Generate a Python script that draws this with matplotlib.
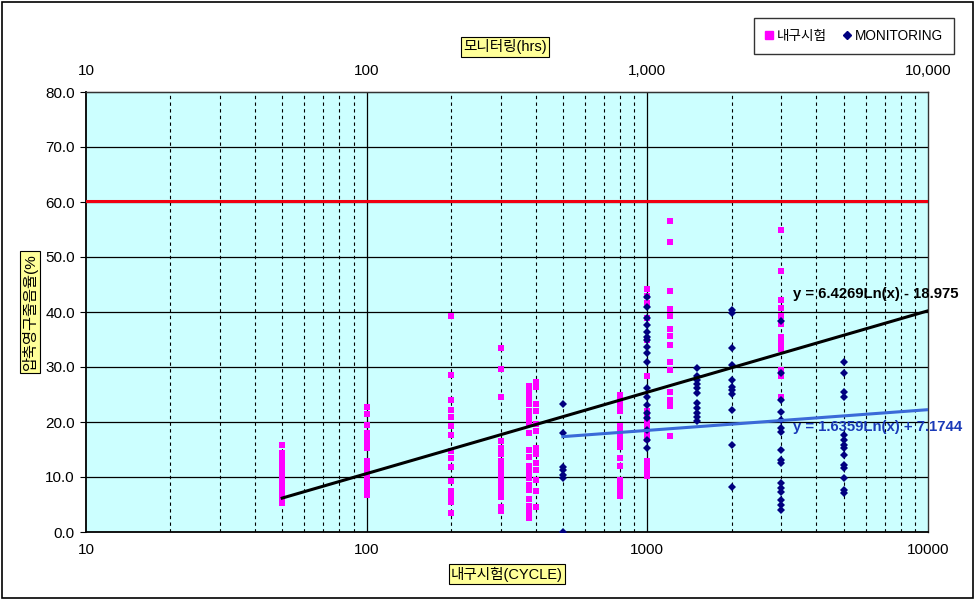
import numpy as np
import matplotlib
matplotlib.use("Agg")
import matplotlib.pyplot as plt
from matplotlib.ticker import FixedLocator, FixedFormatter, NullFormatter
from matplotlib.lines import Line2D

plt.rcParams['font.family'] = ['Liberation Sans', 'Noto Sans CJK KR', 'DejaVu Sans']

# ---- data ----
dur_cycles = [50, 100, 200, 300, 380, 400, 800, 1000, 1200, 3000]
dur_values = [
    [15.8, 14.3, 13.3, 12.3, 11.3, 10.3, 9.3, 8.3, 7.3, 6.3, 5.3],
    [22.7, 21.4, 19.5, 18.0, 16.9, 15.8, 15.2, 13.0, 11.8, 10.8, 9.8, 8.8, 7.8, 6.8],
    [39.2, 28.5, 24.0, 22.2, 21.0, 19.2, 17.6, 14.8, 13.4, 11.8, 9.3, 7.5, 6.4, 5.5, 3.5],
    [33.5, 29.7, 24.5, 16.5, 15.3, 14.1, 13.0, 12.0, 11.0, 10.0, 9.0, 8.0, 7.0, 6.4, 4.5, 3.8],
    [26.6, 25.4, 24.3, 23.2, 22.0, 21.0, 19.8, 18.0, 14.9, 13.6, 12.0, 10.9, 9.8, 8.6, 7.6, 6.0, 4.8, 3.6, 2.6],
    [27.3, 26.3, 23.2, 22.0, 19.6, 18.4, 15.3, 14.2, 12.5, 11.3, 9.5, 7.5, 4.5],
    [25.0, 24.0, 23.0, 22.0, 19.3, 18.3, 17.3, 16.3, 15.5, 13.4, 12.0, 9.5, 8.5, 7.5, 6.6],
    [44.2, 43.0, 41.6, 38.9, 35.0, 28.4, 22.0, 21.0, 20.0, 19.0, 18.0, 17.0, 13.0, 12.0, 11.0, 10.1],
    [56.6, 52.8, 43.9, 40.5, 39.2, 37.0, 35.6, 34.0, 31.0, 29.5, 25.5, 24.0, 23.0, 17.5],
    [55.0, 47.5, 42.2, 40.8, 39.2, 37.8, 35.4, 34.3, 33.2, 29.5, 28.4, 24.5],
]

mon_hours = [500, 1000, 1500, 2000, 3000, 5000]
mon_values = [
    [23.3, 18.0, 11.8, 11.3, 10.4, 9.8, 0.0],
    [42.7, 40.9, 38.9, 37.6, 36.4, 35.5, 34.9, 33.6, 32.5, 30.9,
     26.2, 24.5, 23.1, 21.6, 20.7, 18.5, 16.7, 15.3],
    [29.8, 28.4, 27.6, 26.9, 26.2, 25.3, 23.5, 22.5, 21.6, 20.9, 20.2],
    [40.4, 39.8, 33.5, 30.4, 27.6, 26.4, 25.8, 25.1, 22.2, 15.8, 8.2],
    [38.3, 28.9, 24.0, 21.8, 20.4, 18.9, 18.2, 14.9, 13.1, 12.5, 8.9, 8.0, 7.3, 5.8, 4.9, 4.0],
    [30.9, 28.9, 25.5, 24.5, 17.6, 16.7, 15.8, 15.3, 14.0, 12.2, 11.6, 9.8, 7.6, 7.1],
]

# trendline coefficients (as printed on chart): y = a*ln(x) + b
dur_trend = (6.4269, -18.975)
mon_trend = (1.6359, 7.1744)
dur_trend_range = [50, 10000]
mon_trend_range = [500, 10000]
limit_value = 60.2

x_ticks = [10, 100, 1000, 10000]
x_ticklabels = ['10', '100', '1000', '10000']
top_ticklabels = ['10', '100', '1,000', '10,000']
y_ticks = [0, 10, 20, 30, 40, 50, 60, 70, 80]

# ---- figure ----
fig = plt.figure(figsize=(9.75, 6.0), dpi=100)
fig.patch.set_facecolor('white')
fig.add_artist(plt.Rectangle((0.002, 0.004), 0.996, 0.992, transform=fig.transFigure,
                             fill=False, edgecolor='black', linewidth=1.2))

ax = fig.add_axes([86/975, 1-532/600, (928-86)/975, (532-92)/600])
ax.set_facecolor('#CCFFFF')
ax.set_xscale('log')
ax.set_xlim(10, 10000)
ax.set_ylim(0, 80)

# grid
minor = [m * 10**e for e in range(1, 4) for m in range(2, 10)]
for xv in minor:
    ax.axvline(xv, color='black', linewidth=0.8, linestyle=(0, (3, 3)), zorder=1)
for xv in [100, 1000]:
    ax.axvline(xv, color='black', linewidth=0.9, zorder=1)
for yv in y_ticks[1:-1]:
    ax.axhline(yv, color='black', linewidth=0.9, zorder=1)

# limit line
ax.plot([10, 10000], [limit_value, limit_value], color='#F00010', linewidth=2.2, zorder=3)

# scatter
dx = [c for c, vals in zip(dur_cycles, dur_values) for _ in vals]
dy = [v for vals in dur_values for v in vals]
mx = [c for c, vals in zip(mon_hours, mon_values) for _ in vals]
my = [v for vals in mon_values for v in vals]
ax.plot(dx, dy, linestyle='none', marker='s', markersize=5.0, color='#FF00FF',
        markeredgewidth=0, zorder=4)
ax.plot(mx, my, linestyle='none', marker='D', markersize=3.8, color='#000080',
        markeredgewidth=0, zorder=5)

# trendlines
xt = np.geomspace(dur_trend_range[0], dur_trend_range[1], 200)
ax.plot(xt, dur_trend[0]*np.log(xt) + dur_trend[1], color='black', linewidth=2.2, zorder=6)
xt2 = np.geomspace(mon_trend_range[0], mon_trend_range[1], 200)
ax.plot(xt2, mon_trend[0]*np.log(xt2) + mon_trend[1], color='#3A6AD8', linewidth=2.2, zorder=6)

ax.text(3300, 43.3, 'y = 6.4269Ln(x) - 18.975', fontsize=10.7, fontweight='bold',
        color='black', zorder=7, va='center', clip_on=False)
ax.text(3300, 19.1, 'y = 1.6359Ln(x) + 7.1744', fontsize=10.7, fontweight='bold',
        color='#1A3AB8', zorder=7, va='center', clip_on=False)

# axes styling
for s in ['left', 'bottom']:
    ax.spines[s].set_linewidth(1.3)
for s in ['top', 'right']:
    ax.spines[s].set_linewidth(1.0)
    ax.spines[s].set_color('#333333')

ax.xaxis.set_major_locator(FixedLocator(x_ticks))
ax.xaxis.set_major_formatter(FixedFormatter(x_ticklabels))
ax.xaxis.set_minor_formatter(NullFormatter())
ax.tick_params(axis='x', which='both', length=0, labelsize=11, pad=8)
ax.set_yticks(y_ticks)
ax.set_yticklabels([f'{v:.1f}' for v in y_ticks])
ax.tick_params(axis='y', length=4, labelsize=11, pad=4)

top = ax.secondary_xaxis('top')
top.xaxis.set_major_locator(FixedLocator(x_ticks))
top.xaxis.set_major_formatter(FixedFormatter(top_ticklabels))
top.xaxis.set_minor_formatter(NullFormatter())
top.tick_params(axis='x', which='both', length=0, labelsize=11, pad=10)

# axis titles with yellow boxes
box = dict(facecolor='#FFFF99', edgecolor='black', linewidth=0.8, pad=1.5)
fig.text(505/975, 1-47/600, '모니터링(hrs)', ha='center', va='center', fontsize=10.5, bbox=box)
fig.text(507/975, 1-574/600, '내구시험(CYCLE)', ha='center', va='center', fontsize=10.5, bbox=box)
fig.text(30/975, 1-312/600, '압축영구줄음율(%', ha='center', va='center', fontsize=11,
         rotation=90, bbox=box)

# legend
handles = [Line2D([], [], linestyle='none', marker='s', markersize=6, color='#FF00FF'),
           Line2D([], [], linestyle='none', marker='D', markersize=4.5, color='#000080')]
leg = fig.legend(handles, ['내구시험', 'MONITORING'], ncol=2, loc='center',
                 bbox_to_anchor=(854/975, 1-36/600), frameon=True, fontsize=9.8,
                 handlelength=0.6, handletextpad=0.3, columnspacing=1.2,
                 borderpad=0.8, fancybox=False)
leg.get_frame().set_edgecolor('black')
leg.get_frame().set_linewidth(1.0)

fig.savefig('out.png', dpi=100, facecolor='white')
